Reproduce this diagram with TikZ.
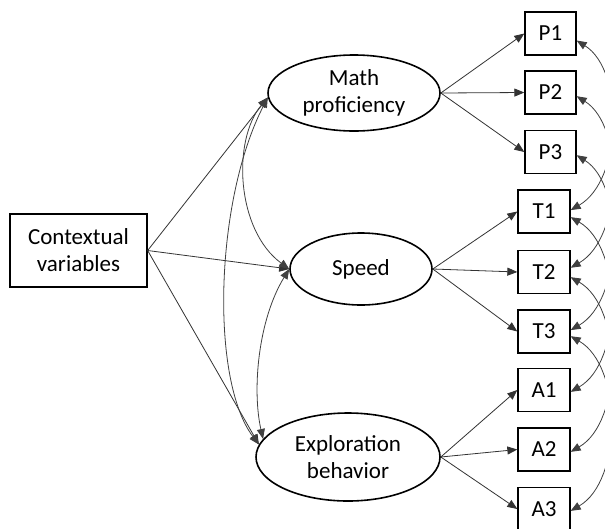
\documentclass[tikz,border=0pt]{standalone}
\usepackage{fontspec}
\setmainfont{Carlito}
\usetikzlibrary{shapes.geometric,arrows.meta,calc}
\begin{document}
\begin{tikzpicture}[x=1pt,y=-1pt,
  every node/.style={font=\fontsize{23}{27}\selectfont, inner sep=0pt, align=center},
  obs/.style={draw, line width=1.3pt, rectangle, minimum width=51pt, minimum height=43pt},
  lat/.style={draw, line width=1.6pt, ellipse},
  load/.style={line width=0.8pt, draw=black!80, -{Triangle[length=10pt,width=8pt]}},
  cov/.style={line width=0.8pt, draw=black!75, {Triangle[length=10pt,width=8pt]}-{Triangle[length=10pt,width=8pt]}}]
\clip (0,0) rectangle (605,528);
\fill[white] (0,0) rectangle (605,528);

% nodes
\node[obs, minimum width=137pt, minimum height=73pt] (ctx) at (78.5,250.5) {Contextual\\variables};
\node[lat, minimum width=172pt, minimum height=76pt] (math) at (354,93) {Math\\proficiency};
\node[lat, minimum width=142pt, minimum height=72pt] (speed) at (361,269) {Speed};
\node[lat, minimum width=184pt, minimum height=88pt] (explo) at (348,457) {Exploration\\behavior};

\node[obs] (p1) at (550.5,33.5) {P1};
\node[obs] (p2) at (550.5,92.5) {P2};
\node[obs] (p3) at (550.5,152) {P3};
\node[obs, minimum width=52pt] (t1) at (544,211.5) {T1};
\node[obs, minimum width=52pt] (t2) at (544,272) {T2};
\node[obs, minimum width=52pt] (t3) at (544,331.5) {T3};
\node[obs, minimum width=52pt] (a1) at (544,390) {A1};
\node[obs, minimum width=52pt] (a2) at (544,449.5) {A2};
\node[obs, minimum width=52pt] (a3) at (544,509) {A3};

% structural paths
\draw[load] (ctx.east) -- (math.183);
\draw[load] (ctx.east) -- (speed.west);
\draw[load] (ctx.east) -- (explo.172);

% latent covariances
\draw[cov] (math.183) .. controls (232,140) and (236,230) .. (speed.west);
\draw[cov] (math.183) .. controls (215,200) and (210,380) .. (explo.172);
\draw[cov] (speed.west) .. controls (258,320) and (252,390) .. (explo.168);

% loadings
\draw[load] (math.east) -- (p1.west);
\draw[load] (math.east) -- (p2.west);
\draw[load] (math.east) -- (p3.west);
\draw[load] (speed.east) -- (t1.west);
\draw[load] (speed.east) -- (t2.west);
\draw[load] (speed.east) -- (t3.west);
\draw[load] (explo.east) -- (a1.west);
\draw[load] (explo.east) -- (a2.west);
\draw[load] (explo.east) -- (a3.west);

% residual covariances
\draw[cov] (p1.-15) .. controls ($(p1.-15)+(48,30)$) and ($(t1.3)+(52,-30)$) .. (t1.3);
\draw[cov] (p2.-8) .. controls ($(p2.-8)+(48,30)$) and ($(t2.9)+(52,-30)$) .. (t2.9);
\draw[cov] (p3.-7) .. controls ($(p3.-7)+(48,30)$) and ($(t3.3)+(52,-30)$) .. (t3.3);
\draw[cov] (t1.-12) .. controls ($(t1.-12)+(52,30)$) and ($(a1.-4)+(52,-30)$) .. (a1.-4);
\draw[cov] (t2.-11) .. controls ($(t2.-11)+(52,30)$) and ($(a2.-5)+(52,-30)$) .. (a2.-5);
\draw[cov] (t3.-10) .. controls ($(t3.-10)+(52,30)$) and ($(a3.-4)+(52,-30)$) .. (a3.-4);
\end{tikzpicture}
\end{document}
